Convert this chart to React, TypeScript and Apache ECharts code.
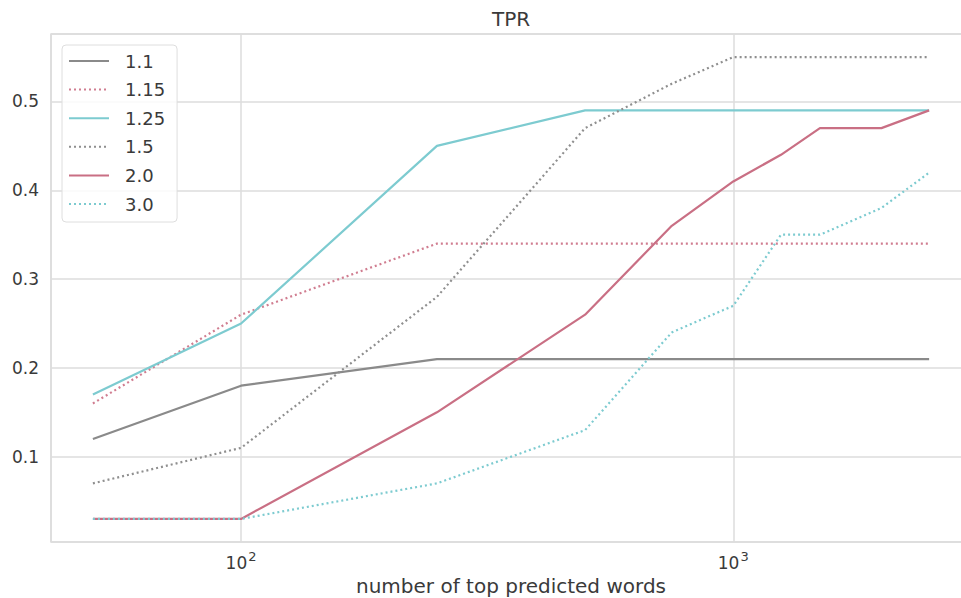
import React, { useEffect, useRef } from "react";
import * as echarts from "echarts";

const xValues = [50, 100, 250, 500, 750, 1000, 1250, 1500, 2000, 2500];
const seriesNames = ["1.1", "1.15", "1.25", "1.5", "2.0", "3.0"];
const s11 = [0.12, 0.18, 0.21, 0.21, 0.21, 0.21, 0.21, 0.21, 0.21, 0.21];
const s115 = [0.16, 0.26, 0.34, 0.34, 0.34, 0.34, 0.34, 0.34, 0.34, 0.34];
const s125 = [0.17, 0.25, 0.45, 0.49, 0.49, 0.49, 0.49, 0.49, 0.49, 0.49];
const s15 = [0.07, 0.11, 0.28, 0.47, 0.52, 0.55, 0.55, 0.55, 0.55, 0.55];
const s20 = [0.03, 0.03, 0.15, 0.26, 0.36, 0.41, 0.44, 0.47, 0.47, 0.49];
const s30 = [0.03, 0.03, 0.07, 0.13, 0.24, 0.27, 0.35, 0.35, 0.38, 0.42];
const seriesValues = [s11, s115, s125, s15, s20, s30];
const colors = ["#8a8a8a", "#d07d90", "#7dcbd0", "#8f8f8f", "#c96f84", "#7dcbd0"];
const dotted = [false, true, false, true, false, true];

const FONT = "DejaVu Sans";
const TEXT = "#3a3a3a";
const GRIDC = "#dcdcdc";

export default function App() {
  const ref = useRef<HTMLDivElement>(null);
  useEffect(() => {
    if (!ref.current) return;
    const chart = echarts.init(ref.current, null, { renderer: "svg" });
    chart.setOption({
      animation: false,
      backgroundColor: "#ffffff",
      textStyle: { fontFamily: FONT, color: TEXT },
      title: {
        text: "TPR",
        left: 492,
        top: 9,
        padding: 0,
        textStyle: { fontFamily: FONT, fontSize: 20, fontWeight: "normal", color: TEXT },
      },
      grid: {
        left: 51,
        top: 34,
        width: 920,
        height: 508,
        show: true,
        borderColor: GRIDC,
        borderWidth: 1.5,
        backgroundColor: "#ffffff",
        containLabel: false,
        outerBoundsMode: "none",
      },
      legend: {
        orient: "vertical",
        left: 62,
        top: 45,
        padding: [6, 12, 8, 6],
        itemWidth: 40,
        itemHeight: 12,
        itemGap: 8.6,
        itemStyle: { opacity: 0 },
        backgroundColor: "rgba(255,255,255,0.85)",
        borderColor: "#dedede",
        borderWidth: 1,
        borderRadius: 4,
        textStyle: {
          fontFamily: FONT,
          fontSize: 18,
          color: TEXT,
          lineHeight: 20,
          padding: [0, 0, 0, 11],
        },
        data: seriesNames,
      },
      xAxis: {
        type: "log",
        logBase: 10,
        min: 41.1,
        max: 3041,
        name: "number of top predicted words",
        nameLocation: "middle",
        nameGap: 33,
        nameTextStyle: { fontFamily: FONT, fontSize: 20, color: TEXT },
        axisLine: { show: false },
        axisTick: { show: false },
        minorTick: { show: false },
        splitLine: { show: true, lineStyle: { color: GRIDC, width: 1.5 } },
        axisLabel: {
          showMinLabel: false,
          showMaxLabel: false,
          margin: 8,
          fontFamily: FONT,
          fontSize: 17,
          color: TEXT,
          formatter: (v: number) => {
            const e = Math.round(Math.log10(v));
            return "{a|10}{b|" + e + "}";
          },
          rich: {
            a: { fontFamily: FONT, fontSize: 17, color: TEXT },
            b: { fontFamily: FONT, fontSize: 13, color: TEXT, padding: [0, 0, 12, 1] },
          },
        },
      },
      yAxis: {
        type: "value",
        min: 0.004,
        max: 0.576,
        splitNumber: 5,
        axisLine: { show: false },
        axisTick: { show: false },
        splitLine: { show: true, lineStyle: { color: GRIDC, width: 1.5 } },
        axisLabel: {
          showMinLabel: false,
          showMaxLabel: false,
          margin: 12,
          fontFamily: FONT,
          fontSize: 17,
          color: TEXT,
          formatter: (v: number) => v.toFixed(1),
        },
      },
      series: seriesNames.map((name, i) => ({
        name,
        type: "line",
        symbol: "none",
        data: xValues.map((x, j) => [x, seriesValues[i][j]]),
        color: colors[i],
        lineStyle: {
          color: colors[i],
          width: 2.2,
          type: dotted[i] ? [2, 3] : "solid",
          cap: "butt",
        },
        z: 2 + i,
      })),
    });
    return () => chart.dispose();
  }, []);
  return (
    <div
      ref={ref}
      style={{ position: "fixed", left: 0, top: 0, width: 961, height: 598 }}
    />
  );
}
